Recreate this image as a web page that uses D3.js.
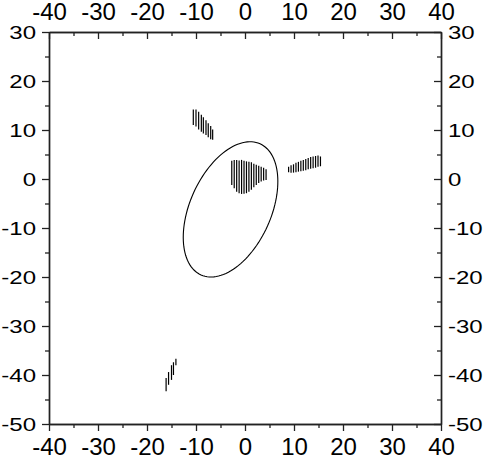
<!DOCTYPE html>
<html>
<head>
<meta charset="utf-8">
<script src="https://cdn.jsdelivr.net/npm/d3@7"></script>
<style>
  body { margin: 0; background: #fff; }
  svg { display: block; }
</style>
</head>
<body>
<div id="wrapper"></div>
<script>
// tick values
const xMajorTicks = [-40, -30, -20, -10, 0, 10, 20, 30, 40];
const xMinorTicks = [-35, -25, -15, -5, 5, 15, 25, 35];
const yMajorTicks = [-50, -40, -30, -20, -10, 0, 10, 20, 30];
const yMinorTicks = [-45, -35, -25, -15, -5, 5, 15, 25];

// upper left cluster of vertical segments
const upperX = [-10.55, -10.0, -9.46, -8.91, -8.5, -7.96, -7.5, -7.0, -6.6];
const upperHi = [14.2, 14.2, 13.7, 13.1, 12.6, 12.0, 11.4, 10.8, 10.1];
const upperLo = [11.0, 10.7, 10.1, 9.66, 9.3, 9.0, 8.5, 8.1, 8.0];

// central cluster
const centerX = [-2.7, -2.2, -1.7, -1.2, -0.7, -0.2, 0.3, 0.8, 1.3, 1.8, 2.3, 2.8, 3.3, 3.8, 4.3];
const centerHi = [3.7, 3.9, 3.9, 3.8, 3.9, 3.7, 3.6, 3.5, 3.4, 3.1, 2.9, 2.7, 2.5, 2.3, 2.0];
const centerLo = [-1.2, -1.9, -2.6, -2.9, -3.05, -3.0, -2.9, -2.6, -2.2, -1.7, -1.2, -0.8, -0.5, -0.3, -0.2];

// right cluster
const rightX = [8.9, 9.4, 9.9, 10.4, 10.9, 11.4, 11.9, 12.4, 12.9, 13.4, 13.9, 14.4, 14.9, 15.4];
const rightHi = [2.5, 2.8, 3.0, 3.3, 3.5, 3.7, 3.9, 4.1, 4.3, 4.5, 4.6, 4.7, 4.8, 4.6];
const rightLo = [1.4, 1.3, 1.3, 1.4, 1.5, 1.6, 1.7, 1.8, 2.0, 2.1, 2.2, 2.3, 2.5, 2.6];

// lower left cluster
const lowerX = [-16.1, -15.6, -15.0, -14.6, -14.1];
const lowerHi = [-40.6, -39.4, -38.0, -37.4, -36.7];
const lowerLo = [-43.3, -42.0, -41.0, -40.0, -38.0];

// ellipse: center, semi axes, rotation (degrees)
const ellipseCenter = [-2.95, -6.2];
const ellipseAxes = [14.67, 8.27];
const ellipseAngle = 65.75;

let dimensions = {
    width: 486,
    height: 456,
    margins: { top: 32, right: 45, bottom: 32, left: 49 }
}
dimensions.boundedWidth = dimensions.width - dimensions.margins.left - dimensions.margins.right
dimensions.boundedHeight = dimensions.height - dimensions.margins.top - dimensions.margins.bottom

const wrapper = d3.select("#wrapper")
    .append("svg")
        .attr("width", dimensions.width)
        .attr("height", dimensions.height)

const xScale = d3.scaleLinear()
    .domain([-40, 40])
    .range([dimensions.margins.left, dimensions.margins.left + dimensions.boundedWidth])
const yScale = d3.scaleLinear()
    .domain([-50, 30])
    .range([dimensions.margins.top + dimensions.boundedHeight, dimensions.margins.top])

const x0 = xScale(-40), x1 = xScale(40), y0 = yScale(-50), y1 = yScale(30)

// Draw segments
const clusters = [
    [upperX, upperHi, upperLo],
    [centerX, centerHi, centerLo],
    [rightX, rightHi, rightLo],
    [lowerX, lowerHi, lowerLo]
]
const segs = wrapper.append("g")
clusters.forEach(([xs, his, los]) => {
    segs.selectAll(null)
        .data(xs.map((x, i) => ({ x, hi: his[i], lo: los[i] })))
        .join("line")
            .attr("x1", d => xScale(d.x))
            .attr("x2", d => xScale(d.x))
            .attr("y1", d => yScale(d.hi))
            .attr("y2", d => yScale(d.lo))
            .attr("stroke", "#000")
            .attr("stroke-width", 1.2)
})

// Draw ellipse
const rot = ellipseAngle * Math.PI / 180
const ellipsePts = d3.range(0, 361, 3).map(deg => {
    const t = deg * Math.PI / 180
    const u = ellipseAxes[0] * Math.cos(t), v = ellipseAxes[1] * Math.sin(t)
    return [ellipseCenter[0] + u * Math.cos(rot) - v * Math.sin(rot),
            ellipseCenter[1] + u * Math.sin(rot) + v * Math.cos(rot)]
})
const lineGenerator = d3.line()
    .x(d => xScale(d[0]))
    .y(d => yScale(d[1]))
wrapper.append("path")
    .attr("d", lineGenerator(ellipsePts))
    .attr("fill", "none")
    .attr("stroke", "#000")
    .attr("stroke-width", 1.1)

// Axes: major + minor on each side
const fontFamily = "'Liberation Sans', Arial, sans-serif"
// plain hyphen minus, like the original
const labelFormat = d => String(d)
function addAxis(gen, ticks, size, transform, labels) {
    const g = wrapper.append("g")
        .attr("transform", transform)
        .call(gen.tickValues(ticks).tickSize(size).tickSizeOuter(0).tickFormat(labels ? labelFormat : ""))
    g.select(".domain").attr("stroke", "#222").attr("stroke-width", 1.4)
    g.selectAll(".tick line").attr("stroke", "#222").attr("stroke-width", 1.3)
    g.selectAll("text")
        .attr("fill", "#000")
        .style("font-family", fontFamily)
        .style("font-size", "24px")
    return g
}
// left (ticks outward)
const leftAxis = addAxis(d3.axisLeft(yScale), yMajorTicks, 7, `translate(${x0},0)`, true)
addAxis(d3.axisLeft(yScale), yMinorTicks, 4, `translate(${x0},0)`, false)
leftAxis.selectAll("text")
    .attr("x", -13)
    .attr("dy", "0.36em")
    .attr("transform", "scale(1,0.8)")
// right (ticks inward)
const rightAxis = addAxis(d3.axisRight(yScale), yMajorTicks, -7, `translate(${x1},0)`, true)
addAxis(d3.axisRight(yScale), yMinorTicks, -4, `translate(${x1},0)`, false)
rightAxis.selectAll("text")
    .attr("x", 7)
    .attr("dy", "0.36em")
    .attr("transform", "scale(1,0.8)")
// top (ticks inward)
const topAxis = addAxis(d3.axisTop(xScale), xMajorTicks, -7, `translate(0,${y1})`, true)
addAxis(d3.axisTop(xScale), xMinorTicks, -4, `translate(0,${y1})`, false)
topAxis.selectAll("text").attr("y", -12).attr("dy", 0)
// bottom (ticks outward)
const bottomAxis = addAxis(d3.axisBottom(xScale), xMajorTicks, 7, `translate(0,${y0})`, true)
addAxis(d3.axisBottom(xScale), xMinorTicks, 4, `translate(0,${y0})`, false)
bottomAxis.selectAll("text").attr("y", 31).attr("dy", 0)
</script>
</body>
</html>
